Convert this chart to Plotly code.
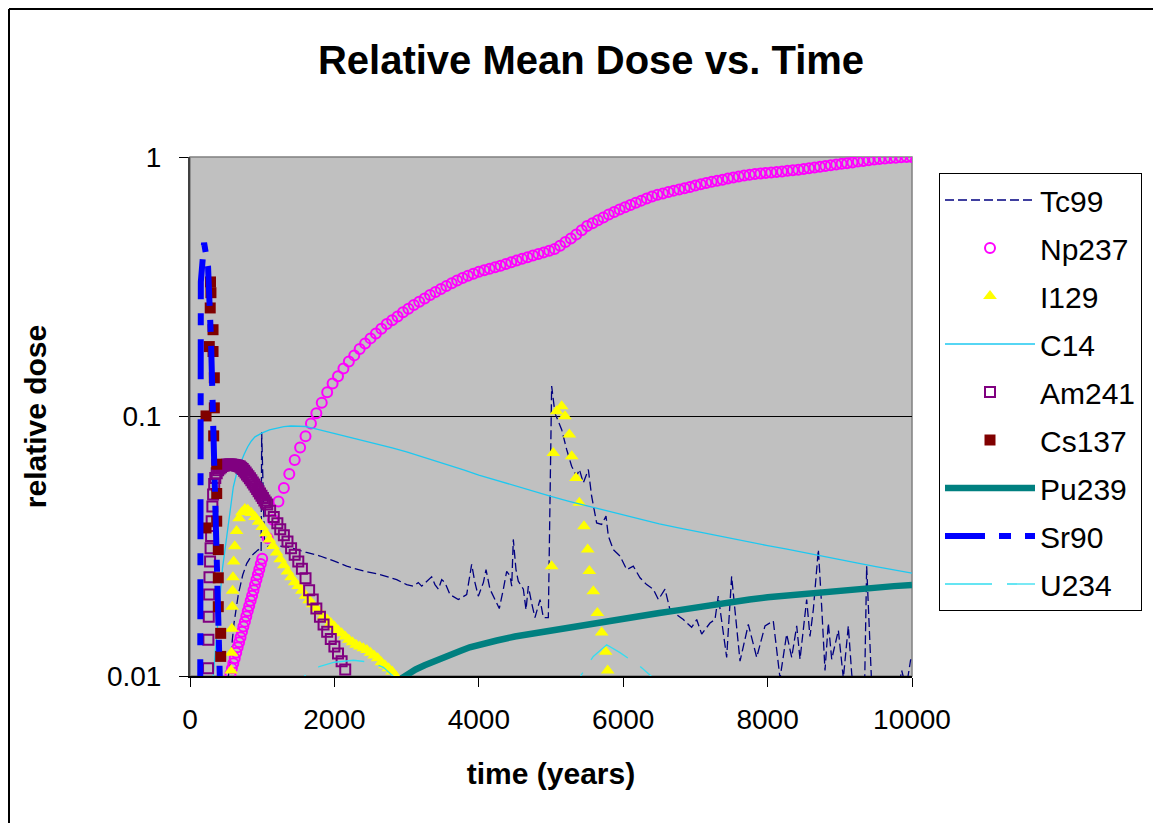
import plotly.graph_objects as go

# ---------------- data ----------------
tc99_t = [500, 554, 610, 669, 730, 785, 850, 946, 985, 993, 1030, 1062, 1200, 1385, 1600, 1801,
          2000, 2170, 2400, 2632, 2863, 3001, 3093, 3162, 3209, 3347, 3393, 3440, 3486, 3532,
          3601, 3716, 3832, 3878, 3901, 3947, 3993, 4063, 4100, 4155, 4224, 4284, 4340, 4386,
          4432, 4456, 4478, 4515, 4547, 4617, 4654, 4686, 4732, 4778, 4848, 4894, 4963, 5009,
          5055, 5101, 5148, 5217, 5286, 5355, 5393, 5448, 5517, 5563, 5632, 5702, 5762, 5794,
          5863, 5956, 6048, 6140, 6233, 6325, 6417, 6487, 6579, 6648, 6741, 6833, 6948, 7018,
          7087, 7202, 7271, 7317, 7433, 7502, 7618, 7733, 7849, 7964, 8079, 8172, 8264, 8334,
          8403, 8449, 8541, 8587, 8633, 8703, 8749, 8795, 8841, 8888, 8980, 9049, 9118, 9165,
          9210, 9300, 9340, 9372, 9460, 9650, 9800, 9857, 9920, 9982]
tc99_v = [0.0085, 0.0112, 0.0160, 0.0206, 0.0245, 0.0271, 0.0290, 0.0307, 0.0300, 0.087, 0.034,
          0.0316, 0.0318, 0.0313, 0.0300, 0.0290, 0.0277, 0.0265, 0.0254, 0.0246, 0.0235, 0.0225,
          0.0222, 0.0229, 0.0222, 0.0241, 0.0225, 0.0216, 0.0235, 0.0229, 0.0206, 0.0197, 0.0206,
          0.0243, 0.0269, 0.0229, 0.0203, 0.0229, 0.0257, 0.0216, 0.0197, 0.0182, 0.0216, 0.0253,
          0.0243, 0.0222, 0.0336, 0.0257, 0.0232, 0.0216, 0.0180, 0.0222, 0.0191, 0.0168, 0.0197,
          0.0168, 0.0168, 0.131, 0.103, 0.096, 0.089, 0.0746, 0.0643, 0.0589, 0.0625, 0.0555,
          0.0625, 0.0493, 0.0389, 0.0384, 0.0413, 0.0346, 0.0307, 0.0290, 0.0257, 0.0265, 0.0239,
          0.0225, 0.0216, 0.0197, 0.0216, 0.0180, 0.0172, 0.0165, 0.0154, 0.0165, 0.0145, 0.0160,
          0.0165, 0.0203, 0.0118, 0.0242, 0.0114, 0.0158, 0.0118, 0.0156, 0.0163, 0.0098, 0.0145,
          0.0118, 0.0156, 0.0116, 0.0197, 0.0142, 0.0180, 0.0307, 0.0185, 0.0105, 0.0160, 0.0116,
          0.0150, 0.0098, 0.0156, 0.0102, 0.0080, 0.0095, 0.0080, 0.0265, 0.0070, 0.0075, 0.0085,
          0.0105, 0.0090, 0.0116]

np237_early_v = [0.0102, 0.0107, 0.0112, 0.0117, 0.0123, 0.0129, 0.0135, 0.0141, 0.0148, 0.0155,
                 0.0162, 0.0170, 0.0178, 0.0186, 0.0195, 0.0204, 0.0214, 0.0224, 0.0235, 0.0246,
                 0.0258, 0.0270]
np237_late_v = [0.0283, 0.034, 0.040, 0.047, 0.053, 0.060, 0.068, 0.076, 0.084, 0.094,
                0.103, 0.113, 0.124, 0.134, 0.143, 0.153, 0.163, 0.172, 0.182, 0.191,
                0.200, 0.209, 0.218, 0.227, 0.235, 0.243, 0.252, 0.260, 0.269, 0.277,
                0.285, 0.294, 0.302, 0.310, 0.318, 0.326, 0.334, 0.342, 0.349, 0.355,
                0.361, 0.366, 0.371, 0.376, 0.381, 0.387, 0.393, 0.399, 0.405, 0.411,
                0.417, 0.423, 0.429, 0.435, 0.442, 0.455, 0.470, 0.485, 0.503, 0.522,
                0.542, 0.556, 0.570, 0.585, 0.600, 0.614, 0.627, 0.640, 0.653, 0.666,
                0.679, 0.692, 0.705, 0.715, 0.724, 0.733, 0.742, 0.750, 0.758, 0.766,
                0.776, 0.785, 0.794, 0.802, 0.810, 0.818, 0.826, 0.834, 0.841, 0.848,
                0.855, 0.860, 0.864, 0.868, 0.872, 0.876, 0.880, 0.885, 0.889, 0.893,
                0.899, 0.905, 0.911, 0.917, 0.923, 0.929, 0.935, 0.941, 0.947, 0.953,
                0.960, 0.966, 0.972, 0.977, 0.982, 0.987, 0.991, 0.994, 0.997, 0.999, 1.0]
np237_t = [560 + 20 * i for i in range(len(np237_early_v))] + \
          [1000 + 75 * i for i in range(len(np237_late_v))]
np237_v = np237_early_v + np237_late_v

i129_t = [570, 575, 580, 585, 590, 595, 605, 620, 645, 680, 720, 760,
          800, 850, 900, 950, 1000, 1050, 1100, 1150, 1200, 1250, 1300, 1350, 1400, 1450,
          1500, 1550, 1600, 1650, 1700, 1750, 1800, 1850, 1900, 1950, 2000, 2050, 2100, 2150,
          2200, 2250, 2300, 2350, 2400, 2450, 2500, 2550, 2600, 2650, 2700, 2750, 2800, 2850,
          5009, 5032, 5078, 5148, 5194, 5254, 5287, 5346, 5393, 5457, 5508, 5531, 5586, 5642,
          5702, 5757, 5785]
i129_v = [0.0105, 0.0123, 0.0152, 0.0185, 0.0213, 0.0240, 0.0276, 0.0316, 0.0362, 0.0405, 0.0428,
          0.0440, 0.0437, 0.0425, 0.0410, 0.0393, 0.0375, 0.0355, 0.0336, 0.0317, 0.0299, 0.0282,
          0.0267, 0.0253, 0.0240, 0.0230, 0.0222, 0.0213, 0.0204, 0.0196, 0.0189, 0.0182, 0.0176,
          0.0170, 0.0165, 0.0160, 0.0155, 0.0150, 0.0146, 0.0142, 0.0138, 0.0135, 0.0132, 0.0130,
          0.0128, 0.0126, 0.0123, 0.0120, 0.0117, 0.0113, 0.0110, 0.0107, 0.0104, 0.0100,
          0.0265, 0.0724, 0.1048, 0.1096, 0.1003, 0.0852, 0.0703, 0.058, 0.0465, 0.0378, 0.0307,
          0.0254, 0.0212, 0.0175, 0.0147, 0.0124, 0.0105]

c14_t = [300, 350, 400, 450, 500, 550, 600, 650, 700, 750, 800, 850, 900, 1000, 1100, 1200, 1300,
         1400, 1500, 1600, 1700, 1800, 2000, 2200, 2400, 2600, 2800, 3000, 3200, 3400, 3600, 3800,
         4000, 4250, 4500, 4750, 5000, 5250, 5500, 5750, 6000, 6250, 6500, 6750, 7000, 7250, 7500,
         7750, 8000, 8250, 8500, 8750, 9000, 9250, 9500, 9750, 10000]
c14_v = [0.0085, 0.0125, 0.018, 0.026, 0.033, 0.042, 0.0535, 0.061, 0.0665, 0.0715, 0.0765, 0.0805,
         0.0835, 0.0865, 0.0888, 0.0903, 0.0914, 0.0919, 0.0920, 0.0915, 0.0902, 0.0888, 0.0862,
         0.0837, 0.0811, 0.0784, 0.0757, 0.0730, 0.0702, 0.0675, 0.0648, 0.0621, 0.0595, 0.0567,
         0.0540, 0.0515, 0.0492, 0.0471, 0.0452, 0.0434, 0.0417, 0.0401, 0.0386, 0.0373, 0.0361,
         0.0349, 0.0339, 0.0328, 0.0318, 0.0309, 0.0299, 0.0290, 0.0281, 0.0272, 0.0264, 0.0257,
         0.0249]

am241_t = [250, 255, 260, 265, 270, 278, 285, 292, 300, 310, 320, 335, 350, 370, 390, 410, 430,
           450, 470, 490, 510, 530, 550, 570, 590, 610, 630, 650, 670, 690, 710, 730, 750, 770,
           790, 810, 830, 850, 870, 890, 910, 930, 950, 970, 990, 1010, 1030, 1050, 1070, 1110,
           1160, 1210, 1250, 1300, 1350, 1400, 1450, 1500, 1550, 1600, 1650, 1700, 1750, 1800,
           1850, 1900, 1950, 2000, 2050, 2100, 2150]
am241_v = [0.0107, 0.0138, 0.0169, 0.0206, 0.0240, 0.0276, 0.0311, 0.0346, 0.0395, 0.0450, 0.0500,
           0.0550, 0.0580, 0.0605, 0.0620, 0.0630, 0.0638, 0.0644, 0.0648, 0.0650, 0.0652, 0.0653,
           0.0653, 0.0653, 0.0652, 0.0651, 0.0649, 0.0647, 0.0645, 0.0641, 0.0635, 0.0627, 0.0618,
           0.0608, 0.0598, 0.0588, 0.0578, 0.0568, 0.0557, 0.0547, 0.0536, 0.0526, 0.0515, 0.0505,
           0.0495, 0.0485, 0.0475, 0.0466, 0.0458, 0.0433, 0.0410, 0.0388, 0.0368, 0.0349, 0.0330,
           0.0311, 0.0293, 0.0276, 0.0259, 0.0238, 0.0214, 0.0197, 0.0182, 0.0169, 0.0158, 0.0148,
           0.0139, 0.0130, 0.0122, 0.0114, 0.0106]

cs137_t = [284, 290, 280, 319, 267, 319, 337, 337, 222, 328, 370, 370, 370, 222, 392, 392, 392,
           425, 425]
cs137_v = [0.33, 0.30, 0.262, 0.216, 0.186, 0.178, 0.141, 0.108, 0.1005, 0.0842, 0.0655, 0.0505,
           0.0395, 0.0372, 0.0307, 0.0239, 0.0185, 0.0146, 0.0119]

pu239_t = [2750, 2875, 3000, 3125, 3250, 3375, 3500, 3625, 3750, 3875, 4000, 4250, 4500, 4750,
           5000, 5250, 5500, 5750, 6000, 6250, 6500, 6750, 7000, 7250, 7500, 7750, 8000, 8250,
           8500, 8750, 9000, 9250, 9500, 9750, 10000]
pu239_v = [0.0091, 0.0096, 0.0101, 0.0106, 0.0110, 0.0114, 0.0118, 0.0122, 0.0125, 0.0129,
           0.0132, 0.0137, 0.0142, 0.0146, 0.0150, 0.0154, 0.0158, 0.0162, 0.0166, 0.0170,
           0.0175, 0.0179, 0.0184, 0.0188, 0.0193, 0.0197, 0.0201, 0.0204, 0.0208, 0.0211,
           0.0214, 0.0217, 0.0220, 0.0222, 0.0224]

sr90_t = [140, 150, 195, 250, 290, 330, 370, 415, 450]
sr90_v = [0.004, 0.33, 0.467, 0.378, 0.20, 0.075, 0.025, 0.0097, 0.004]

u234_t = [1300, 1524, 1650, 1801, 2000, 2263, 2500, 2678, 2863, 3100, 5100, 5379, 5586, 5771,
          5956, 6233, 6440, 6700]
u234_v = [0.007, 0.0096, 0.0104, 0.0109, 0.0113, 0.0115, 0.0113, 0.0108, 0.0097, 0.008, 0.008,
          0.0097, 0.0119, 0.0132, 0.0123, 0.0109, 0.0097, 0.008]

x_ticks = [0, 2000, 4000, 6000, 8000, 10000]
x_tick_text = ["0", "2000", "4000", "6000", "8000", "10000"]
y_ticks = [0.01, 0.1, 1]
y_tick_text = ["0.01", "0.1", "1"]

FONT = "Arial, Liberation Sans, sans-serif"

# page has an 8px body margin: figure drawn from (8, 8)
W, H = 1153, 815
ML, MR, MT, MB = 182, 249, 149, 147
PW, PH = W - ML - MR, H - MT - MB

fig = go.Figure()

def add(name, x, y, **kw):
    fig.add_trace(go.Scatter(x=x, y=y, name=name, legendgroup=name, **kw))

add("Tc99", tc99_t, tc99_v, mode="lines",
    line=dict(color="#000080", width=1.3, dash="9px,4px"))
add("Np237", np237_t, np237_v, mode="markers",
    marker=dict(symbol="circle-open", size=10, color="#FF00FF", line=dict(width=2, color="#FF00FF")))
add("I129", i129_t, i129_v, mode="markers",
    marker=dict(symbol="triangle-up", size=12, color="#FFFF00", line=dict(width=0)))
add("C14", c14_t, c14_v, mode="lines",
    line=dict(color="#1EC8F0", width=1.3))
add("Am241", am241_t, am241_v, mode="markers",
    marker=dict(symbol="square-open", size=10, color="#800080", line=dict(width=2, color="#800080")))
add("Cs137", cs137_t, cs137_v, mode="markers",
    marker=dict(symbol="square", size=11, color="#800000", line=dict(width=0)))
add("Pu239", pu239_t, pu239_v, mode="lines",
    line=dict(color="#008080", width=6.5))
add("Sr90", sr90_t, sr90_v, mode="lines",
    line=dict(color="#0000FF", width=6, dash="40px,14px,12px,14px"))
add("U234", u234_t, u234_v, mode="lines",
    line=dict(color="#33DDF0", width=1.3, dash="47px,15px"))

fx0 = (1 - ML) / PW            # left frame edge (paper coords)
fy1 = (PH + MT - 1) / PH       # top frame edge (paper coords)

fig.update_layout(
    width=W, height=H, autosize=False,
    margin=dict(l=ML, r=MR, t=MT, b=MB),
    paper_bgcolor="white", plot_bgcolor="#C0C0C0",
    font=dict(family=FONT, color="black"),
    title=dict(text="Relative Mean Dose vs. Time", x=(591 - 8) / W, y=1 - (60 - 8) / H,
               xref="container", yref="container", xanchor="center", yanchor="middle",
               font=dict(size=40, weight="bold", family=FONT)),
    showlegend=True,
    legend=dict(x=(939 - 190) / PW, y=(676 - 173) / PH, xanchor="left", yanchor="top",
                bgcolor="white", bordercolor="black", borderwidth=1,
                font=dict(size=30, family=FONT), itemwidth=90,
                entrywidth=130, entrywidthmode="pixels",
                traceorder="grouped", tracegroupgap=6),
    xaxis=dict(range=[0, 10000], tickvals=x_ticks, ticktext=x_tick_text,
               ticks="outside", ticklen=9, tickcolor="black",
               tickwidth=1, showline=True, linecolor="black", linewidth=1.5, showgrid=False,
               zeroline=False, tickfont=dict(size=28), ticklabelstandoff=9,
               title=dict(text="time (years)", font=dict(size=30, weight="bold"), standoff=29)),
    yaxis=dict(type="log", range=[-2, 0], tickvals=y_ticks, ticktext=y_tick_text,
               ticks="outside", ticklen=9, tickcolor="black", tickwidth=1,
               showline=True, linecolor="#404040", linewidth=2,
               showgrid=True, gridcolor="black", gridwidth=1, zeroline=False,
               tickfont=dict(size=28), ticklabelstandoff=12,
               title=dict(text="relative dose", font=dict(size=30, weight="bold"), standoff=51)),
    shapes=[
        dict(type="rect", xref="paper", yref="paper", x0=0, x1=1, y0=0, y1=1,
             line=dict(color="#808080", width=1.5), layer="below"),
        dict(type="line", xref="paper", yref="paper", x0=fx0, x1=fx0,
             y0=-(MB + 10) / PH, y1=fy1, line=dict(color="black", width=2), layer="below"),
        dict(type="line", xref="paper", yref="paper", x0=fx0, x1=(W + 10 - ML) / PW,
             y0=fy1, y1=fy1, line=dict(color="black", width=2), layer="below"),
    ],
)

fig.write_html("out.html")
